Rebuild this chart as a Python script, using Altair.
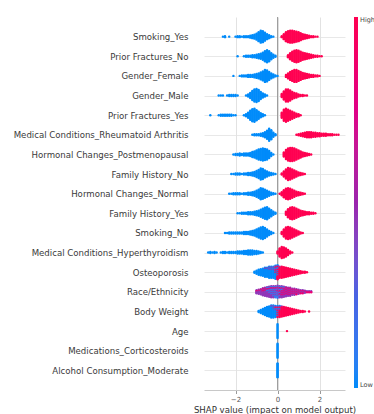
import json
import altair as alt
import pandas as pd

# Feature names, top to bottom
FEATURES = [
    "Smoking_Yes",
    "Prior Fractures_No",
    "Gender_Female",
    "Gender_Male",
    "Prior Fractures_Yes",
    "Medical Conditions_Rheumatoid Arthritis",
    "Hormonal Changes_Postmenopausal",
    "Family History_No",
    "Hormonal Changes_Normal",
    "Family History_Yes",
    "Smoking_No",
    "Medical Conditions_Hyperthyroidism",
    "Osteoporosis",
    "Race/Ethnicity",
    "Body Weight",
    "Age",
    "Medications_Corticosteroids",
    "Alcohol Consumption_Moderate",
]

# Each segment: (first SHAP value, feature value 0=low..1=high, dots stacked per 0.1 SHAP step)
smoking_yes = [
    (-2.6, 0.0, [1, 2, 0, 1, 0, 0, 1, 2, 2, 1, 2, 2, 2, 3, 4, 5, 7, 10, 13, 12, 9, 6, 4, 2, 1]),
    (0.2, 1.0, [2, 6, 10, 12, 13, 13, 12, 11, 10, 8, 6, 5, 4, 3, 2, 2, 1, 1]),
]
prior_fractures_no = [
    (-1.9, 0.0, [1, 0, 0, 1, 2, 2, 2, 3, 3, 4, 5, 6, 8, 11, 13, 11, 7, 4, 2]),
    (0.5, 1.0, [3, 7, 10, 12, 13, 12, 10, 8, 7, 6, 5, 4, 3, 2, 2, 1, 1]),
]
gender_female = [
    (-2.1, 0.0, [1, 0, 0, 1, 2, 2, 2, 3, 3, 3, 4, 5, 6, 8, 10, 13, 12, 9, 6, 4, 2, 1]),
    (0.4, 1.0, [3, 6, 9, 11, 13, 13, 11, 9, 7, 6, 5, 4, 3, 3, 2, 2, 1]),
]
gender_male = [
    (-2.8, 0.0, [1, 1, 1, 0, 1, 2, 2, 2, 2, 1, 0, 0, 0, 1, 3, 6, 10, 13, 14, 12, 8, 5, 3, 1]),
    (0.2, 1.0, [4, 9, 13, 13, 11, 8, 6, 5, 3, 2, 2, 1, 1]),
]
prior_fractures_yes = [
    (-3.2, 0.0, [1, 0, 0, 0, 1, 2, 2, 2, 2, 2, 2, 1, 1, 0, 0, 0, 1, 3, 6, 10, 13, 14, 11, 8, 5, 3, 1]),
    (0.2, 1.0, [6, 12, 14, 12, 10, 8, 6, 4, 3, 1]),
]
rheumatoid_arthritis = [
    (-1.2, 0.0, [1, 2, 2, 2, 3, 4, 6, 9, 13, 10, 5, 2]),
    (0.9, 1.0, [1, 2, 3, 4, 5, 6, 6, 6, 5, 5, 4, 4, 3, 3, 3, 2, 2, 2, 1, 1, 1]),
]
hormonal_postmenopausal = [
    (-2.1, 0.0, [1, 2, 2, 3, 2, 3, 3, 3, 4, 6, 7, 9, 11, 12, 13, 12, 11, 8, 4, 1]),
    (0.3, 1.0, [5, 10, 13, 14, 14, 13, 11, 9, 7, 5, 4, 3, 2, 1]),
]
family_history_no = [
    (-2.2, 0.0, [1, 1, 2, 2, 2, 1, 2, 2, 3, 3, 4, 5, 7, 9, 12, 11, 8, 6, 4, 3, 2, 1]),
    (0.2, 1.0, [2, 6, 10, 13, 12, 10, 8, 6, 4, 3, 2, 1]),
]
hormonal_normal = [
    (-2.3, 0.0, [1, 1, 2, 2, 2, 2, 1, 2, 2, 3, 3, 4, 5, 7, 9, 12, 11, 9, 7, 5, 3, 2, 1]),
    (0.1, 1.0, [1, 4, 8, 11, 12, 11, 9, 7, 5, 4, 3, 2, 1]),
]
family_history_yes = [
    (-1.9, 0.0, [1, 1, 2, 2, 2, 3, 3, 3, 4, 5, 6, 8, 10, 12, 13, 10, 7, 4, 2]),
    (0.4, 1.0, [4, 9, 12, 13, 12, 10, 8, 6, 5, 4, 3, 3, 2, 2, 1]),
]
smoking_no = [
    (-2.5, 0.0, [1, 1, 2, 2, 2, 2, 2, 2, 2, 3, 3, 3, 4, 5, 6, 8, 10, 12, 13, 11, 8, 5, 3, 1]),
    (0.2, 1.0, [3, 8, 12, 13, 12, 10, 8, 6, 4, 2, 1]),
]
hyperthyroidism = [
    (-3.3, 0.0, [1, 2, 1, 2, 1, 0, 1, 2, 2, 1, 2, 2, 2, 2, 3, 3, 3, 4, 4, 5, 5, 5, 4, 4, 3, 2, 1]),
    (0.0, 1.0, [3, 9, 12, 11, 9, 6, 3, 1]),
]
osteoporosis = [
    (-1.1, 0.0, [2, 4, 6, 7, 8, 9, 9, 10, 10, 10, 9, 5]),
    (-0.6, 0.45, [1, 1, 2, 2, 2, 2, 2, 1]),
    (-0.1, 1.0, [3, 8, 11, 12, 11, 10, 9, 8, 7, 6, 5, 4, 3, 2, 2, 1]),
]
race_ethnicity = [
    (-1.0, 0.45, [3, 4, 5, 6, 7, 7, 7, 7, 6, 5, 5, 5, 6, 6, 6, 5, 5, 4, 4, 3, 3, 2, 2, 2, 1, 1, 1]),
    (-0.5, 0.1, [2, 3, 4, 5, 6, 6, 4, 2, 1]),
    (-1.0, 0.85, [1, 1, 1, 2, 2, 1, 1, 1, 1, 1, 2, 3, 4, 4, 4, 4, 4, 3, 3, 3, 2, 2, 2, 1, 1, 1, 1]),
]
body_weight = [
    (-0.9, 0.0, [2, 4, 6, 8, 10, 11, 12, 11, 9, 5, 2]),
    (-0.3, 0.45, [1, 2, 2, 2, 2, 1]),
    (-0.1, 1.0, [1, 5, 8, 10, 10, 9, 8, 7, 6, 5, 4, 3, 2, 2, 1, 0, 1]),
]
age = [
    (0.0, 0.0, [15]),
    (0.45, 1.0, [1]),
]
corticosteroids = [(0.0, 0.0, [15])]
alcohol_moderate = [(0.0, 0.0, [15])]

ROWS = [
    smoking_yes, prior_fractures_no, gender_female, gender_male,
    prior_fractures_yes, rheumatoid_arthritis, hormonal_postmenopausal,
    family_history_no, hormonal_normal, family_history_yes, smoking_no,
    hyperthyroidism, osteoporosis, race_ethnicity, body_weight, age,
    corticosteroids, alcohol_moderate,
]

# Blue -> purple -> red colour ramp (LCH path with a darker middle)
RAMP_STOPS = [0, 0.25, 0.5, 0.75, 1]
RAMP_COLOURS = ["#008bfa", "#4963e3", "#9b24ad", "#e00086", "#ff0051"]

STEP = 0.1
PLOT_W, PLOT_H = 141, 373
DOT_GAP = 1.0 / (PLOT_H / (len(FEATURES) + 1))  # one pixel, in row units
FONT = "DejaVu Sans"

# Beeswarm layout: dots sharing a SHAP bin are stacked symmetrically about the row
records = []
for i, segments in enumerate(ROWS):
    bins = {}
    for start, val, counts in segments:
        for k, n in enumerate(counts):
            x = round(start + k * STEP, 3)
            bins.setdefault(x, []).append([val] * n)
    for x, groups in bins.items():
        colours = []
        depth = max(len(g) for g in groups)
        for d in range(depth):
            for g in groups:
                if d < len(g):
                    colours.append(g[d])
        n = len(colours)
        for j, c in enumerate(colours):
            records.append({"shap": x, "row": i + (j - (n - 1) / 2) * DOT_GAP, "value": c})

dots = pd.DataFrame(records)
zero = pd.DataFrame({"shap": [0.0]})

label_expr = json.dumps(FEATURES) + "[datum.value]"

x_scale = alt.Scale(domain=[-3.5, 3.21], nice=False, zero=False)
y_scale = alt.Scale(domain=[-1, 18], reverse=True, nice=False, zero=False)

zero_line = alt.Chart(zero).mark_rule(color="#9a9a9a", strokeWidth=1).encode(
    x=alt.X("shap:Q", scale=x_scale)
)

swarm = alt.Chart(dots).mark_circle(size=6, opacity=1).encode(
    x=alt.X(
        "shap:Q",
        scale=x_scale,
        axis=alt.Axis(
            values=[-2, 0, 2],
            title="SHAP value (impact on model output)",
            grid=True,
            gridColor="#e2e2e2",
            gridWidth=1,
            domainColor="#c8c8c8",
            tickColor="#9a9a9a",
            tickSize=3.5,
            labelFont=FONT,
            labelFontSize=7,
            labelColor="#555555",
            labelPadding=2,
            titleFont=FONT,
            titleFontSize=8.6,
            titleFontWeight="normal",
            titleColor="#333333",
            titlePadding=3,
        ),
    ),
    y=alt.Y(
        "row:Q",
        scale=y_scale,
        axis=alt.Axis(
            values=list(range(len(FEATURES))),
            labelExpr=label_expr,
            title=None,
            ticks=False,
            domain=False,
            grid=True,
            gridColor="#e2e2e2",
            gridWidth=0.8,
            labelFont=FONT,
            labelFontSize=8.6,
            labelColor="#3a3a3a",
            labelPadding=16,
            labelLimit=300,
        ),
    ),
    color=alt.Color(
        "value:Q",
        scale=alt.Scale(domain=RAMP_STOPS, range=RAMP_COLOURS, interpolate="lab"),
        legend=alt.Legend(
            title=None,
            orient="none",
            legendX=150,
            legendY=0,
            direction="vertical",
            gradientLength=371,
            gradientThickness=4,
            gradientStrokeWidth=0,
            values=[0, 1],
            labelExpr="datum.value > 0.5 ? 'High' : 'Low'",
            labelFont=FONT,
            labelFontSize=6.5,
            labelColor="#444444",
            labelBaseline="middle",
            labelOffset=2,
        ),
    ),
)

chart = (
    alt.layer(zero_line, swarm)
    .properties(
        width=PLOT_W,
        height=PLOT_H,
        padding={"left": 204, "top": 17, "right": 29, "bottom": 24},
        autosize=alt.AutoSizeParams(type="none"),
    )
    .configure(font=FONT)
    .configure_view(strokeWidth=0)
)

chart.save("out.html", embed_options={"renderer": "svg", "actions": False})
